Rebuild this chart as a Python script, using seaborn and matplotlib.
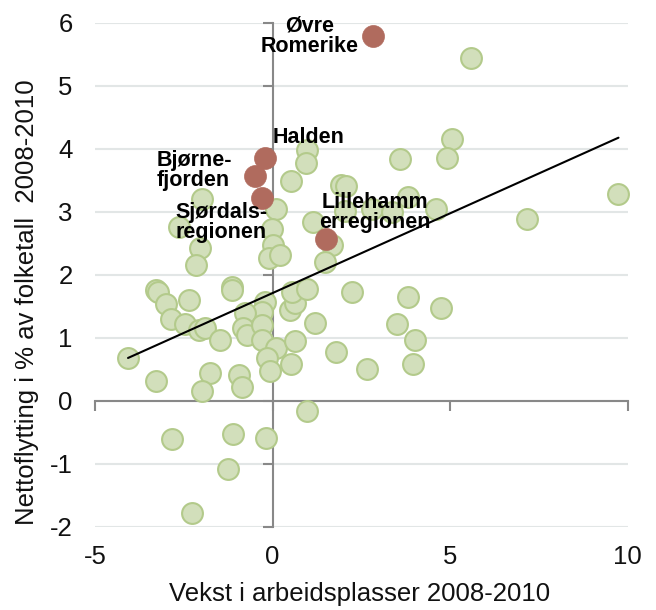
import pandas as pd
import matplotlib
matplotlib.use("Agg")
import matplotlib.pyplot as plt
import matplotlib.ticker as mticker
import seaborn as sns

sns.set_style("white")
plt.rcParams["font.family"] = ["Liberation Sans", "DejaVu Sans"]
plt.rcParams["axes.unicode_minus"] = False

# Alle regioner (grønne punkter): vekst i arbeidsplasser og nettoflytting
vekst = [5.60, 5.04, 4.90, 3.59, 9.74, 7.17, 4.60, 3.82, 1.94, 2.08,
         2.04, 2.79, 3.35, 0.97, 0.94, 0.53, -2.00, -2.63, 0.11, -0.03,
         0.02, -0.10, 0.21, 1.14, 1.66, 1.47, -2.05, -2.16, -1.15, -1.13,
         -0.22, -0.31, -0.78, -0.83, -0.73, -0.31, -0.31, 0.10, -0.17, -0.08,
         0.53, 0.63, 1.20, 1.79, 2.25, 0.49, 0.63, 0.55, 0.96, -3.29,
         -3.22, -2.99, -2.35, -2.87, -2.47, -2.08, -1.91, -1.49, 2.65, -4.07,
         -3.29, -1.75, -2.00, -0.94, -0.86, 0.96, -2.84, -1.11, -0.19, -1.25,
         -2.26, 3.82, 4.73, 3.49, 4.01, 3.94]
netto = [5.44, 4.15, 3.85, 3.83, 3.28, 2.88, 3.04, 3.24, 3.42, 3.40,
         3.01, 3.04, 3.00, 3.98, 3.77, 3.48, 3.20, 2.76, 3.04, 2.73,
         2.47, 2.26, 2.31, 2.84, 2.47, 2.20, 2.42, 2.15, 1.81, 1.76,
         1.57, 1.41, 1.39, 1.15, 1.05, 1.20, 0.97, 0.83, 0.67, 0.47,
         0.58, 0.95, 1.24, 0.78, 1.73, 1.44, 1.55, 1.73, 1.77, 1.75,
         1.73, 1.53, 1.60, 1.29, 1.22, 1.12, 1.15, 0.96, 0.51, 0.67,
         0.32, 0.44, 0.16, 0.41, 0.21, -0.16, -0.61, -0.53, -0.59, -1.09,
         -1.79, 1.65, 1.47, 1.22, 0.96, 0.59]

# Uthevede regioner (røde punkter)
navn = ["Øvre\nRomerike", "Halden", "Bjørne-\nfjorden", "Sjørdals-\nregionen",
        "Lillehamm\nerregionen"]
vekst_uth = [2.83, -0.20, -0.50, -0.31, 1.50]
netto_uth = [5.79, 3.86, 3.56, 3.22, 2.57]

x_ticks = [-5, 0, 5, 10]
y_ticks = [-2, -1, 0, 1, 2, 3, 4, 5, 6]

green_face = "#d2dfbb"
green_edge = "#b3ca8b"
red = "#b06b5e"
axis_col = "#888888"
grid_col = "#e2e6e6"

df_all = pd.DataFrame({"vekst": vekst, "netto": netto})
df_uth = pd.DataFrame({"vekst": vekst_uth, "netto": netto_uth, "navn": navn})
df_fit = pd.concat([df_all, df_uth[["vekst", "netto"]]], ignore_index=True)

fig = plt.figure(figsize=(6.56, 6.10), dpi=100)
ax = fig.add_axes([0.1448, 0.1366, 0.8121, 0.8262])

sns.scatterplot(data=df_all, x="vekst", y="netto", s=225, color=green_face,
                edgecolor=green_edge, linewidth=1.5, ax=ax, zorder=3,
                clip_on=False)
sns.scatterplot(data=df_uth, x="vekst", y="netto", s=250, color=red,
                edgecolor=red, linewidth=0.5, ax=ax, zorder=4, clip_on=False)
sns.regplot(data=df_fit, x="vekst", y="netto", scatter=False, ci=None,
            truncate=True, color="black", line_kws={"lw": 1.5, "zorder": 5},
            ax=ax)

# label placement (offset in pixels, alignment)
label_style = [
    dict(xytext=(-14, 0), ha="right", va="center", ma="center"),
    dict(xytext=(7, 20), ha="left", va="center", ma="left"),
    dict(xytext=(-23, 6), ha="right", va="center", ma="left"),
    dict(xytext=(6, -25), ha="right", va="center", ma="left"),
    dict(xytext=(49, 26), ha="center", va="center", ma="center"),
]
for i, row in df_uth.iterrows():
    st = label_style[i]
    ax.annotate(row["navn"], (row["vekst"], row["netto"]), xytext=st["xytext"],
                textcoords="offset pixels", ha=st["ha"], va=st["va"],
                multialignment=st["ma"], fontsize=15.5, fontweight="bold",
                linespacing=0.95, color="black", zorder=6)

ax.set_xlim(-5, 10)
ax.set_ylim(-2, 6)
ax.set_xticks(x_ticks)
ax.set_yticks(y_ticks)
for sp in ax.spines.values():
    sp.set_visible(False)
ax.yaxis.grid(True, color=grid_col, lw=1.5)
ax.xaxis.grid(False)
ax.set_axisbelow(True)
ax.tick_params(axis="both", length=0, labelsize=18.5, colors="#111111")
ax.tick_params(axis="y", pad=16)
ax.tick_params(axis="x", pad=13)

ax.set_xlabel("Vekst i arbeidsplasser 2008-2010", fontsize=18.5, color="#111111")
ax.set_ylabel("Nettoflytting i % av folketall  2008-2010", fontsize=18.5,
              color="#111111")
ax.xaxis.set_label_coords(0.497, -0.11)
ax.yaxis.set_label_coords(-0.105, 0.446)

# axes crossing at zero
sec_y = ax.secondary_yaxis(0, transform=ax.transData)
sec_y.yaxis.set_major_locator(mticker.MultipleLocator(1))
sec_y.tick_params(length=7, width=1.5, color=axis_col, labelleft=False)
sec_y.spines["left"].set_color(axis_col)
sec_y.spines["left"].set_linewidth(1.5)
sec_y.set_zorder(1)

sec_x = ax.secondary_xaxis(0, transform=ax.transData)
sec_x.xaxis.set_major_locator(mticker.MultipleLocator(5))
sec_x.tick_params(length=7, width=1.5, color=axis_col, labelbottom=False)
sec_x.spines["bottom"].set_color(axis_col)
sec_x.spines["bottom"].set_linewidth(1.5)
sec_x.set_zorder(1)

fig.savefig("out.png", dpi=100)
